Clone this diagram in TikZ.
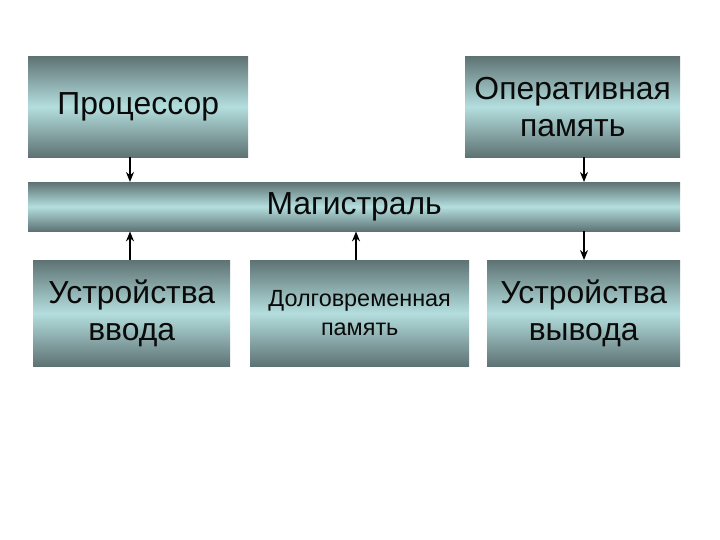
\documentclass[tikz,border=0pt]{standalone}
\usepackage{fontspec}
\setmainfont{Liberation Sans}
\usetikzlibrary{arrows.meta}
\definecolor{boxDark}{HTML}{5E7273}
\definecolor{boxLight}{HTML}{B4DEDE}
\definecolor{boxInk}{HTML}{0A0A0A}
\tikzset{
  every node/.style={text=boxInk},
  unit/.style={
    anchor=north west,
    inner sep=0pt,
    align=center,
    top color=boxDark,
    bottom color=boxDark,
    middle color=boxLight,
    font=\fontsize{32}{37}\selectfont
  },
  small unit/.style={
    unit,
    font=\fontsize{23.5}{29}\selectfont
  },
  link/.style={
    -{Stealth[length=10bp,width=8bp]},
    line width=1.4bp,
    draw=black
  }
}
\begin{document}
\begin{tikzpicture}[x=1bp,y=-1bp]
  \useasboundingbox (0,0) rectangle (720,540);

  % upper row
  \node[unit, minimum width=220bp, minimum height=101bp] (cpu) at (28,56) {Процессор};
  \node[unit, minimum width=215bp, minimum height=101bp] (ram) at (465,56) {Оперативная\\память};

  % bus
  \node[unit, minimum width=652bp, minimum height=49bp] (bus) at (28,182) {Магистраль};

  % lower row
  \node[unit, minimum width=197bp, minimum height=106bp] (inp) at (33,260) {Устройства\\ввода};
  \node[small unit, minimum width=219bp, minimum height=106bp] (disk) at (250,260) {Долговременная\\память};
  \node[unit, minimum width=193bp, minimum height=106bp] (outp) at (487,260) {Устройства\\вывода};

  \coordinate (colL) at (130,0);
  \coordinate (colM) at (356,0);
  \coordinate (colR) at (584,0);

  \draw[link] (cpu.south -| colL) -- (bus.north -| colL);
  \draw[link] (ram.south -| colR) -- (bus.north -| colR);
  \draw[link] (inp.north -| colL) -- (bus.south -| colL);
  \draw[link] (disk.north -| colM) -- (bus.south -| colM);
  \draw[link] (bus.south -| colR) -- (outp.north -| colR);
\end{tikzpicture}
\end{document}
